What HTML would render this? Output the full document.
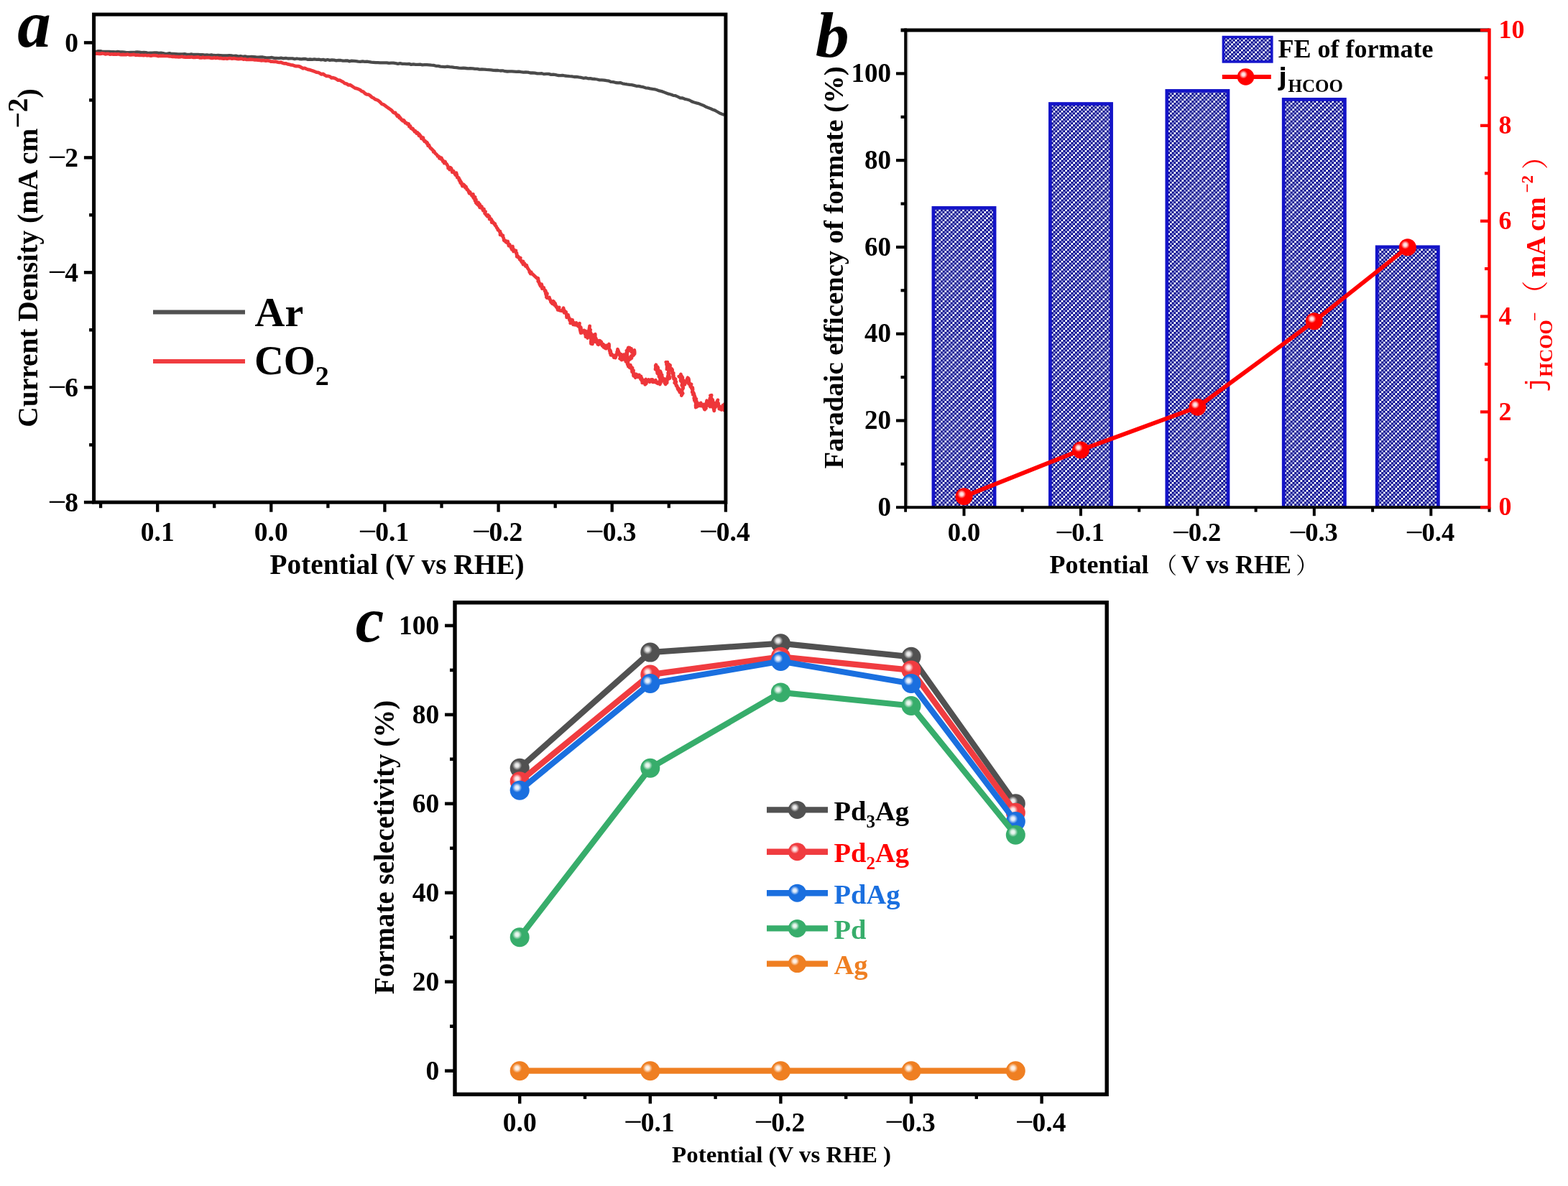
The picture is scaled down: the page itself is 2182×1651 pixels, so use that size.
<!DOCTYPE html>
<html lang="en"><head><meta charset="utf-8"><title>Figure: CO2 electroreduction on PdAg catalysts</title>
<style>
html,body{margin:0;padding:0;background:#fff;}
body{width:2182px;height:1651px;overflow:hidden;}
svg{display:block;font-family:"Liberation Serif", "Noto Serif CJK SC", serif;font-weight:bold;filter:blur(0.6px);}
text{white-space:pre;}
</style></head><body>
<svg width="2182" height="1651" viewBox="0 0 2182 1651">
<rect width="2182" height="1651" fill="#fff"/>
<defs>
<pattern id="hatch" width="11.0" height="11.0" patternUnits="userSpaceOnUse"><rect width="11.0" height="11.0" fill="#9399d8"/><rect x="0.0" y="0.0" width="2.75" height="2.75" fill="#00008b"/><rect x="0.0" y="2.75" width="2.75" height="2.75" fill="#ffffff"/><rect x="0.0" y="5.5" width="2.75" height="2.75" fill="#00008b"/><rect x="2.75" y="0.0" width="2.75" height="2.75" fill="#ffffff"/><rect x="2.75" y="2.75" width="2.75" height="2.75" fill="#00008b"/><rect x="2.75" y="8.25" width="2.75" height="2.75" fill="#00008b"/><rect x="5.5" y="0.0" width="2.75" height="2.75" fill="#00008b"/><rect x="5.5" y="5.5" width="2.75" height="2.75" fill="#00008b"/><rect x="5.5" y="8.25" width="2.75" height="2.75" fill="#ffffff"/><rect x="8.25" y="2.75" width="2.75" height="2.75" fill="#00008b"/><rect x="8.25" y="5.5" width="2.75" height="2.75" fill="#ffffff"/><rect x="8.25" y="8.25" width="2.75" height="2.75" fill="#00008b"/></pattern>
<radialGradient id="shine" cx="0.365" cy="0.36" r="0.62" fx="0.365" fy="0.36"><stop offset="0" stop-color="#ffffff" stop-opacity="0.95"/><stop offset="0.16" stop-color="#ffffff" stop-opacity="0.82"/><stop offset="0.28" stop-color="#ffffff" stop-opacity="0.4"/><stop offset="0.4" stop-color="#ffffff" stop-opacity="0"/><stop offset="1" stop-color="#ffffff" stop-opacity="0"/></radialGradient>
</defs>
<g id="panel-a">
<clipPath id="clipa"><rect x="131" y="21" width="878" height="677"/></clipPath>
<g clip-path="url(#clipa)">
<path d="M131.0,71.9 L134.0,71.9 L137.0,71.1 L140.0,71.2 L143.0,72.0 L146.0,72.0 L149.0,72.0 L152.0,71.8 L155.0,72.1 L158.0,72.2 L161.0,72.3 L164.0,71.9 L167.0,72.3 L170.0,72.3 L173.0,72.7 L176.0,73.1 L179.0,73.1 L182.0,72.8 L185.0,72.8 L188.0,72.7 L191.0,72.5 L194.0,72.6 L197.0,73.1 L200.0,73.0 L203.0,73.2 L206.0,73.8 L209.0,73.6 L212.0,73.7 L215.0,73.5 L218.0,73.4 L221.0,73.8 L224.0,73.7 L227.0,74.2 L230.0,74.8 L233.0,74.6 L236.0,74.2 L239.0,75.0 L242.0,75.0 L245.0,75.1 L248.0,75.4 L251.0,75.3 L254.0,75.5 L257.0,75.1 L260.0,75.9 L263.1,76.0 L266.2,75.3 L269.3,76.0 L272.4,76.0 L275.6,75.9 L278.7,76.1 L281.8,76.1 L284.9,76.7 L288.0,76.4 L291.1,76.8 L294.2,76.4 L297.3,77.0 L300.4,77.2 L303.6,76.8 L306.7,77.1 L309.8,77.5 L312.9,77.4 L316.0,77.3 L319.1,77.2 L322.2,77.4 L325.3,78.0 L328.4,77.6 L331.6,78.5 L334.7,78.0 L337.8,78.8 L340.9,78.4 L344.0,79.2 L347.1,79.1 L350.2,79.0 L353.3,79.2 L356.4,79.5 L359.6,79.6 L362.7,79.4 L365.8,79.5 L368.9,80.0 L372.0,80.5 L375.2,80.4 L378.4,80.0 L381.6,80.8 L384.8,80.9 L388.0,81.2 L391.2,80.6 L394.4,81.3 L397.6,80.8 L400.8,81.5 L404.0,81.3 L407.0,81.3 L410.1,82.1 L413.1,81.5 L416.2,82.0 L419.2,82.4 L422.3,82.0 L425.3,82.0 L428.4,82.8 L431.4,82.5 L434.5,82.9 L437.5,82.3 L440.6,82.8 L443.6,82.7 L446.7,83.3 L449.7,82.9 L452.8,83.9 L455.8,83.0 L458.9,83.9 L461.9,83.3 L465.0,83.6 L468.0,84.3 L471.0,83.8 L474.1,84.0 L477.1,84.6 L480.2,84.5 L483.2,84.3 L486.3,85.4 L489.3,84.7 L492.4,84.8 L495.4,85.2 L498.5,85.6 L501.5,85.9 L504.6,85.4 L507.6,85.8 L510.7,85.7 L513.7,86.2 L516.8,86.7 L519.8,86.8 L522.9,87.1 L525.9,87.2 L529.0,87.4 L532.0,87.4 L535.1,87.3 L538.2,87.3 L541.3,87.9 L544.4,87.7 L547.5,87.7 L550.6,88.2 L553.7,88.8 L556.8,88.2 L559.9,88.8 L563.0,88.8 L566.0,89.1 L569.1,88.9 L572.2,89.9 L575.3,89.4 L578.4,89.9 L581.5,89.9 L584.6,89.6 L587.7,90.3 L590.8,90.1 L593.9,90.2 L597.0,90.3 L600.2,90.7 L603.4,90.9 L606.6,91.8 L609.8,91.9 L613.0,92.7 L616.2,92.9 L619.3,93.2 L622.5,92.7 L625.7,93.2 L628.9,93.3 L632.1,93.9 L635.3,94.2 L638.5,94.7 L641.7,94.8 L644.9,94.6 L648.1,95.0 L651.3,95.4 L654.5,95.1 L657.8,95.3 L661.0,95.9 L664.2,95.9 L667.4,96.7 L670.6,96.5 L673.8,96.6 L677.0,96.9 L680.2,97.1 L683.4,97.3 L686.6,97.8 L689.8,98.0 L693.0,98.0 L696.2,98.5 L699.5,98.3 L702.7,99.2 L705.9,99.5 L709.1,99.4 L712.3,99.3 L715.5,99.6 L718.7,99.9 L721.9,99.6 L725.1,100.2 L728.3,100.6 L731.5,100.4 L734.8,100.6 L738.0,101.5 L741.2,101.3 L744.4,101.7 L747.6,102.4 L750.8,102.3 L754.0,102.2 L757.2,103.2 L760.4,102.9 L763.6,102.9 L766.8,103.9 L770.0,103.6 L773.2,104.1 L776.5,105.0 L779.7,105.1 L782.9,104.8 L786.1,105.5 L789.3,105.8 L792.5,106.2 L795.7,106.3 L798.9,107.0 L802.1,106.8 L805.3,107.4 L808.5,107.9 L811.8,108.8 L815.0,108.3 L818.2,109.3 L821.4,109.1 L824.6,109.9 L827.8,110.0 L831.0,110.5 L834.2,111.3 L837.4,111.4 L840.6,111.6 L843.8,112.2 L847.0,112.6 L850.2,113.9 L853.5,114.2 L856.7,115.0 L859.9,115.3 L863.1,115.1 L866.3,116.3 L869.5,116.9 L872.7,117.4 L875.9,117.8 L879.1,118.2 L882.3,118.9 L885.5,119.8 L888.8,119.9 L892.0,120.7 L895.2,121.2 L898.4,122.3 L901.6,122.7 L904.8,123.4 L908.0,123.9 L911.2,124.3 L914.3,125.2 L917.5,126.4 L920.7,127.1 L923.8,128.2 L927.0,129.4 L930.2,130.7 L933.5,131.5 L936.8,132.8 L940.0,133.2 L943.2,134.6 L946.5,136.3 L949.8,136.5 L953.0,137.8 L956.2,138.5 L959.5,139.5 L962.8,141.4 L966.0,142.5 L969.2,143.4 L972.3,144.1 L975.5,145.5 L978.7,146.7 L981.8,148.4 L985.0,149.7 L988.3,150.9 L991.6,152.5 L994.9,153.6 L998.1,155.5 L1001.4,157.4 L1004.7,158.8 L1008.0,160.0" fill="none" stroke="#4a4a4a" stroke-width="4.3" stroke-linejoin="round" />
<path d="M131.0,74.2 L133.2,74.6 L135.5,74.5 L137.7,74.8 L139.9,74.9 L142.1,74.4 L144.4,74.5 L146.6,75.4 L148.8,74.9 L151.0,74.9 L153.3,75.7 L155.5,75.3 L157.7,75.7 L159.9,75.4 L162.2,75.7 L164.4,75.3 L166.6,75.8 L168.8,76.1 L171.1,75.9 L173.3,76.2 L175.5,76.2 L177.7,75.6 L180.0,76.4 L182.2,76.3 L184.4,76.1 L186.6,75.9 L188.9,76.8 L191.1,76.5 L193.3,76.8 L195.5,77.0 L197.8,76.9 L200.0,77.2 L202.2,76.8 L204.4,77.3 L206.7,77.0 L208.9,77.6 L211.1,77.6 L213.3,77.0 L215.6,77.1 L217.8,77.3 L220.0,78.1 L222.2,77.7 L224.4,77.9 L226.7,77.7 L228.9,78.0 L231.1,78.0 L233.3,78.0 L235.6,78.4 L237.8,78.5 L240.0,78.9 L242.2,78.7 L244.4,79.1 L246.7,79.1 L248.9,79.3 L251.1,79.1 L253.3,78.7 L255.6,79.5 L257.8,79.7 L260.0,79.7 L262.2,79.4 L264.5,79.7 L266.7,79.3 L269.0,80.0 L271.2,79.8 L273.4,79.6 L275.7,79.4 L277.9,80.3 L280.2,80.5 L282.4,79.7 L284.6,80.5 L286.9,80.2 L289.1,80.0 L291.4,80.2 L293.6,80.8 L295.8,81.0 L298.1,80.2 L300.3,80.9 L302.6,80.4 L304.8,81.1 L307.0,80.8 L309.3,81.4 L311.5,81.6 L313.8,81.2 L316.0,81.8 L318.3,81.2 L320.5,81.1 L322.8,81.7 L325.1,81.2 L327.3,81.5 L329.6,81.8 L331.9,82.1 L334.1,81.8 L336.4,81.7 L338.7,82.7 L340.9,82.2 L343.2,83.0 L345.5,83.0 L347.7,82.6 L350.0,82.8 L352.2,83.0 L354.4,83.3 L356.6,83.4 L358.8,83.6 L361.0,83.8 L363.2,84.3 L365.4,84.1 L367.6,84.2 L369.8,84.6 L372.0,84.3 L374.4,84.7 L376.8,85.7 L379.1,85.6 L381.5,85.9 L383.9,85.7 L386.2,86.5 L388.6,87.0 L391.0,86.7 L393.4,87.8 L395.7,88.4 L398.1,88.3 L400.5,89.4 L402.8,89.8 L405.2,90.5 L407.5,90.7 L409.9,91.6 L412.3,92.2 L414.6,92.0 L417.0,92.6 L419.3,93.9 L421.7,95.3 L424.0,94.8 L426.3,95.9 L428.7,96.9 L431.0,97.2 L433.4,98.0 L435.7,98.7 L438.0,99.6 L440.4,100.7 L442.7,100.9 L445.0,101.9 L447.4,103.4 L449.7,102.9 L452.0,104.7 L454.3,105.8 L456.7,105.9 L459.0,106.5 L461.3,108.4 L463.6,108.2 L466.0,108.9 L468.3,110.2 L470.6,111.7 L473.0,111.7 L475.3,113.1 L477.6,114.2 L480.0,116.2 L482.3,116.5 L484.7,118.3 L487.0,118.1 L489.3,119.5 L491.7,121.1 L494.0,122.6 L496.3,123.1 L498.7,124.0 L501.0,125.1 L503.3,127.1 L505.7,127.8 L508.0,130.1 L510.4,131.5 L512.7,131.6 L515.0,133.0 L517.4,135.3 L519.7,136.3 L522.0,138.2 L524.4,139.0 L526.7,140.2 L529.0,142.1 L531.3,144.7 L533.7,145.4 L536.0,147.1 L538.3,148.9 L540.6,150.5 L543.0,152.1 L545.3,153.9 L545.3,153.9 L546.2,155.1 L547.1,156.1 L547.8,156.8 L548.0,156.5 L549.5,157.5 L550.2,157.0 L550.6,158.0 L551.5,159.4 L551.7,159.2 L552.7,161.5 L553.9,160.4 L554.7,161.0 L555.3,161.7 L555.5,164.1 L556.5,163.2 L558.0,165.4 L558.1,166.3 L559.1,166.3 L559.5,167.6 L560.8,168.4 L561.7,167.3 L562.0,167.6 L562.5,168.0 L563.4,170.1 L563.9,171.0 L565.0,170.7 L566.3,171.8 L566.5,172.5 L567.8,172.0 L568.8,172.6 L569.4,175.6 L569.3,176.1 L570.5,176.2 L570.9,175.3 L571.9,178.7 L572.7,178.8 L574.3,180.0 L574.4,178.9 L575.4,180.9 L575.7,181.5 L577.3,182.5 L577.1,183.5 L578.0,182.3 L579.4,184.8 L579.7,185.6 L580.7,184.4 L581.1,184.6 L581.5,185.2 L583.0,188.7 L583.0,186.3 L584.8,188.6 L584.8,188.4 L585.7,191.1 L586.3,190.4 L586.4,192.8 L587.1,192.1 L588.9,191.6 L589.5,195.1 L590.1,195.3 L590.0,194.8 L590.8,196.9 L591.6,196.3 L593.3,198.5 L593.9,197.9 L593.8,199.7 L594.5,198.9 L595.0,199.1 L595.6,203.0 L597.1,202.5 L597.1,202.2 L597.1,202.7 L598.8,205.8 L598.9,206.2 L600.3,206.7 L600.8,207.7 L601.1,208.3 L601.7,208.2 L603.1,209.8 L603.1,211.5 L604.4,210.9 L604.1,211.5 L605.2,212.8 L606.2,214.1 L607.3,214.8 L607.5,215.0 L608.8,216.5 L608.9,217.4 L610.5,217.5 L611.4,219.4 L611.3,218.4 L611.4,220.4 L613.4,219.6 L613.6,221.4 L614.4,219.8 L615.1,222.3 L615.6,222.4 L616.2,224.6 L616.9,225.1 L616.5,223.4 L617.9,226.3 L618.2,227.2 L619.6,225.1 L620.0,226.7 L619.9,227.0 L621.0,227.9 L621.5,228.0 L622.7,230.3 L623.6,232.0 L623.6,234.2 L623.9,232.7 L625.2,233.4 L625.6,236.1 L626.8,233.2 L628.0,234.2 L628.6,236.1 L629.3,239.7 L630.5,238.0 L631.2,239.8 L631.1,238.2 L632.3,240.9 L633.7,243.5 L633.7,241.4 L635.0,240.6 L634.3,243.9 L635.7,242.8 L636.3,247.2 L636.3,245.9 L636.5,246.2 L638.4,247.4 L638.9,250.8 L638.7,248.7 L640.0,250.6 L639.4,250.7 L641.0,252.4 L640.3,253.1 L640.7,254.5 L641.9,253.8 L643.2,257.0 L642.4,256.4 L643.5,259.0 L645.1,256.6 L644.8,257.0 L646.8,258.4 L646.7,260.0 L647.5,261.3 L648.4,259.8 L649.1,261.4 L649.4,262.3 L649.7,263.9 L650.7,263.8 L651.9,265.6 L651.3,264.8 L652.8,268.6 L654.3,267.6 L653.4,269.4 L654.9,269.2 L656.1,270.2 L656.4,272.2 L657.0,270.5 L658.5,270.3 L658.2,274.0 L658.5,274.7 L660.0,273.8 L659.6,276.4 L661.2,274.4 L660.7,277.3 L661.2,277.2 L660.9,279.3 L662.5,277.9 L662.1,282.2 L663.8,282.3 L663.1,283.3 L665.5,285.4 L665.7,281.8 L666.6,283.4 L667.0,287.6 L667.8,284.6 L667.7,289.0 L668.1,288.4 L669.3,287.1 L670.4,287.4 L670.1,289.7 L670.7,289.1 L672.3,293.0 L673.5,291.0 L673.4,292.7 L674.3,294.3 L675.6,294.6 L674.6,297.0 L675.4,297.5 L676.7,299.6 L677.4,299.1 L677.6,299.6 L678.2,301.3 L679.3,299.3 L679.4,301.3 L681.0,301.2 L681.6,304.2 L681.1,305.1 L681.7,303.5 L683.3,304.8 L684.5,306.8 L684.1,309.1 L684.2,309.6 L684.9,307.8 L687.2,311.1 L686.5,309.4 L688.5,312.8 L688.8,311.2 L689.1,313.0 L689.0,313.8 L690.2,314.8 L690.3,314.7 L691.7,317.9 L692.2,317.8 L692.8,319.1 L692.9,320.2 L693.7,320.3 L693.1,319.5 L693.9,320.4 L695.7,323.4 L696.0,322.0 L696.0,327.0 L696.8,325.8 L697.2,325.1 L697.3,326.2 L698.4,328.0 L700.0,327.8 L699.6,329.2 L700.1,330.1 L700.9,331.8 L701.2,334.6 L702.5,335.5 L703.8,335.1 L704.1,337.2 L704.1,336.8 L705.1,337.6 L706.6,336.0 L706.2,336.2 L706.9,337.2 L707.9,342.1 L708.5,339.9 L709.3,340.5 L710.4,343.3 L710.0,341.9 L711.6,345.9 L712.2,344.3 L713.5,343.1 L712.4,347.5 L713.7,344.9 L714.6,350.0 L715.2,347.9 L715.1,347.4 L717.2,350.1 L717.9,348.8 L717.2,349.7 L718.1,350.6 L718.4,353.0 L719.1,352.3 L719.2,357.3 L720.1,356.1 L721.1,357.0 L721.1,356.9 L721.7,358.8 L723.8,359.9 L724.3,359.0 L723.3,361.3 L724.8,362.3 L725.2,363.4 L726.5,365.5 L726.4,364.1 L728.0,363.9 L727.3,365.1 L727.9,368.0 L729.9,366.7 L729.3,366.4 L730.1,367.2 L731.1,370.3 L731.4,368.7 L732.9,369.4 L732.6,371.3 L733.5,371.3 L734.2,373.1 L735.5,375.0 L736.4,376.3 L736.7,376.7 L736.8,378.7 L737.8,380.1 L738.5,379.8 L738.3,381.1 L739.2,378.8 L739.2,379.8 L747.7,387.7 L747.8,387.0 L748.9,387.5 L749.2,389.9 L748.7,391.5 L749.1,392.0 L749.7,391.3 L750.8,395.8 L750.7,393.8 L752.1,398.2 L752.5,396.5 L753.7,395.8 L754.2,397.7 L753.4,397.7 L754.4,401.8 L754.8,401.4 L756.3,401.2 L756.8,400.5 L756.5,401.9 L758.3,403.8 L758.2,405.3 L759.2,404.7 L760.0,407.7 L759.2,408.2 L759.9,410.7 L760.7,408.7 L761.5,408.7 L760.3,413.6 L760.5,412.8 L761.0,414.6 L763.5,414.8 L764.5,414.0 L764.8,416.5 L765.3,416.4 L766.7,420.1 L766.6,419.2 L766.4,420.2 L768.6,422.7 L769.9,419.1 L769.7,422.1 L769.7,421.5 L770.9,420.0 L771.4,424.6 L772.5,422.1 L773.6,426.8 L773.4,425.1 L775.0,428.6 L776.2,429.4 L775.4,427.6 L776.1,431.3 L778.1,427.8 L776.7,429.2 L777.3,431.6 L778.7,431.2 L778.3,431.9 L780.2,432.5 L782.7,433.0 L782.6,432.3 L784.1,428.7 L785.2,433.8 L785.8,434.7 L785.3,433.1 L785.2,435.3 L785.8,432.7 L786.8,434.1 L787.7,434.3 L787.6,435.7 L788.3,437.8 L788.6,441.8 L790.6,438.3 L790.2,440.4 L791.0,440.0 L792.7,446.1 L792.3,443.9 L791.9,442.5 L793.0,444.4 L794.7,444.7 L793.7,450.0 L795.8,445.7 L796.7,445.5 L797.6,451.8 L799.3,450.7 L798.8,449.2 L799.5,452.2 L801.5,452.5 L802.0,449.3 L804.3,454.1 L805.4,453.3 L806.4,453.1 L806.1,452.0 L806.5,450.1 L805.9,452.6 L806.5,456.1 L808.3,455.6 L808.4,459.9 L808.6,457.2 L807.0,457.4 L807.0,458.3 L808.2,463.5 L808.8,462.0 L809.4,463.4 L809.1,462.1 L812.1,462.3 L812.7,459.9 L812.4,461.3 L813.1,462.4 L815.0,461.0 L814.1,465.3 L815.2,461.7 L814.2,462.6 L816.4,467.6 L815.0,468.7 L817.4,468.7 L816.2,469.1 L816.1,466.9 L818.4,469.7 L817.6,470.4 L817.7,469.0 L818.9,464.1 L817.8,463.5 L818.0,464.3 L818.3,462.3 L818.3,464.2 L819.1,460.5 L819.9,462.2 L819.8,461.2 L820.3,457.9 L820.6,453.8 L820.7,453.8 L819.8,458.5 L820.3,457.6 L821.7,459.2 L820.9,460.0 L821.6,462.6 L820.6,462.3 L821.1,461.6 L822.5,464.1 L822.1,466.6 L823.1,465.8 L822.5,467.2 L822.3,469.3 L822.3,469.4 L822.5,472.9 L823.2,473.5 L823.9,470.9 L823.1,476.0 L823.9,472.2 L822.3,475.1 L822.3,474.9 L822.4,478.5 L824.5,478.9 L823.3,476.8 L824.9,472.3 L825.9,476.2 L824.7,475.1 L825.5,471.3 L827.3,472.3 L825.7,468.9 L826.9,467.3 L826.5,466.2 L828.3,465.3 L828.3,468.8 L827.5,469.0 L829.4,471.1 L828.5,474.8 L830.7,475.7 L829.6,472.4 L829.9,476.4 L830.9,473.4 L831.7,479.1 L833.2,476.1 L832.6,479.8 L834.6,478.2 L834.5,474.1 L836.9,476.0 L836.5,478.9 L838.3,479.0 L837.5,480.2 L837.9,481.2 L839.3,479.0 L840.0,483.5 L839.8,479.6 L840.9,481.2 L840.3,481.7 L840.6,482.8 L841.7,484.4 L843.3,485.2 L843.3,483.7 L843.6,481.9 L844.0,481.0 L845.8,483.4 L845.1,482.1 L847.5,479.0 L847.7,482.0 L847.3,485.4 L847.4,484.4 L848.5,488.2 L848.1,488.3 L849.4,488.1 L849.0,487.4 L848.6,487.0 L849.0,491.7 L849.9,489.2 L849.9,494.3 L852.1,494.2 L851.1,492.7 L852.2,494.2 L853.0,494.3 L854.3,497.6 L857.1,495.3 L856.4,498.1 L857.6,494.6 L857.3,493.7 L858.8,493.4 L858.6,492.3 L858.6,489.8 L859.2,489.5 L859.5,486.2 L860.5,488.5 L861.6,491.3 L862.4,493.1 L862.7,495.5 L862.3,493.2 L864.1,493.1 L863.9,497.1 L862.6,499.3 L865.0,499.1 L865.0,501.2 L864.4,498.7 L866.0,499.8 L867.5,499.0 L867.8,498.6 L868.8,496.6 L868.0,493.6 L868.1,496.6 L868.3,500.4 L869.7,500.1 L870.2,501.4 L870.2,498.3 L871.3,503.7 L870.9,503.4 L871.4,499.5 L871.8,499.6 L870.3,498.7 L872.1,497.2 L872.3,500.8 L871.8,496.2 L872.0,497.0 L872.8,495.5 L872.7,491.3 L871.6,491.3 L873.2,490.5 L873.0,487.8 L871.9,488.2 L873.5,489.7 L873.7,486.3 L873.5,486.3 L874.3,483.9 L876.3,484.1 L877.5,488.2 L876.1,485.0 L878.8,488.8 L878.6,485.3 L878.8,490.1 L879.5,488.6 L880.1,489.0 L882.8,487.4 L883.2,490.4 L883.1,492.6 L881.3,494.8 L881.6,490.6 L880.2,494.4 L881.0,494.3 L879.4,495.1 L878.9,498.6 L877.2,498.6 L878.3,495.4 L877.6,499.5 L876.6,497.5 L874.4,498.7 L875.7,500.9 L874.0,501.0 L873.6,499.8 L872.9,505.6 L873.2,507.3 L872.9,504.3 L874.0,504.7 L874.3,510.2 L876.1,510.2 L876.0,511.7 L877.4,510.3 L877.4,508.2 L878.0,511.4 L878.6,513.5 L878.1,510.7 L880.1,512.2 L879.5,514.4 L879.5,517.7 L881.6,515.7 L881.3,516.9 L881.5,518.4 L881.1,518.0 L881.6,523.4 L882.8,520.2 L884.2,525.8 L883.6,521.6 L884.0,521.0 L885.4,520.8 L886.2,521.5 L888.0,525.0 L889.5,521.9 L889.2,523.5 L889.6,523.3 L889.3,523.8 L892.0,523.8 L891.4,527.7 L892.8,526.1 L891.9,527.2 L892.7,529.3 L894.6,532.6 L894.9,528.5 L893.8,533.0 L896.9,531.9 L897.1,529.4 L897.6,535.3 L899.3,534.0 L900.3,529.5 L898.8,528.1 L900.5,530.4 L902.1,529.8 L902.0,529.2 L902.6,528.4 L902.6,530.3 L904.1,531.6 L906.1,528.4 L905.9,528.6 L908.2,531.8 L908.0,528.4 L910.1,531.9 L910.8,530.2 L912.4,529.3 L912.8,532.5 L915.4,533.8 L916.2,533.1 L915.7,532.0 L918.4,535.0 L917.9,531.1 L918.5,533.9 L918.5,530.3 L919.3,533.2 L918.4,526.8 L918.9,528.0 L919.9,525.6 L920.4,527.7 L919.2,523.6 L919.9,523.3 L919.1,521.9 L917.3,524.1 L917.0,524.4 L917.1,518.8 L916.0,519.3 L916.6,521.6 L915.0,517.3 L914.7,519.9 L914.1,513.4 L913.5,514.5 L915.0,516.5 L914.2,516.3 L914.3,511.4 L912.0,514.1 L913.0,507.7 L912.3,508.9 L912.2,509.5 L912.3,508.5 L913.1,511.5 L915.2,511.0 L915.8,512.4 L914.9,517.0 L916.6,515.6 L915.3,516.8 L916.6,520.4 L916.7,518.0 L919.0,516.9 L918.3,522.5 L919.7,518.8 L918.5,519.8 L921.2,521.9 L921.2,526.6 L920.7,523.7 L922.7,526.7 L921.5,528.2 L922.2,526.4 L921.9,530.2 L924.6,530.3 L925.2,527.6 L923.9,531.2 L926.2,534.9 L925.3,531.6 L925.9,533.9 L927.6,531.1 L927.7,533.5 L928.2,532.8 L928.2,529.2 L928.0,528.5 L929.5,525.9 L928.6,529.0 L929.2,523.9 L929.1,525.9 L930.3,527.5 L932.1,526.6 L930.4,520.2 L929.8,521.7 L931.1,520.4 L929.7,519.2 L930.5,519.7 L930.6,519.7 L930.2,514.4 L930.4,514.4 L929.5,513.8 L929.7,511.8 L928.4,511.0 L927.9,513.9 L928.8,509.5 L928.1,512.5 L928.2,506.9 L928.7,508.4 L928.9,504.1 L927.5,507.4 L928.2,507.0 L926.8,504.1 L927.6,504.4 L930.3,507.6 L930.7,507.3 L931.2,508.6 L930.3,511.5 L932.6,508.3 L932.3,512.3 L932.0,511.7 L932.4,511.6 L933.3,514.8 L934.8,513.4 L933.9,515.0 L935.8,515.1 L935.2,516.2 L936.7,519.2 L935.3,517.5 L936.4,521.1 L937.3,519.3 L936.5,523.9 L937.4,522.4 L937.5,527.4 L937.8,526.0 L938.2,526.1 L939.8,530.5 L938.9,526.7 L940.1,527.7 L938.7,532.9 L940.0,533.3 L940.3,534.7 L940.9,531.4 L940.2,534.7 L942.1,537.8 L941.2,537.1 L942.2,537.4 L942.1,537.0 L943.4,541.9 L942.8,540.2 L944.9,544.1 L943.8,540.0 L946.0,546.1 L945.3,541.6 L947.0,544.4 L947.6,546.7 L948.0,544.8 L948.6,546.0 L948.3,550.6 L950.0,547.5 L948.6,547.7 L949.4,546.6 L948.6,544.7 L950.2,547.6 L948.6,544.5 L950.5,540.3 L950.8,539.7 L950.3,541.3 L950.5,538.8 L950.1,539.4 L950.3,538.8 L950.0,536.5 L948.7,536.6 L949.5,533.3 L949.9,535.6 L948.8,531.0 L948.6,529.6 L947.4,530.5 L947.0,529.6 L947.8,526.2 L947.8,525.5 L947.7,528.7 L946.8,523.4 L946.5,524.3 L947.3,521.9 L946.8,526.1 L946.2,524.0 L944.6,524.0 L945.8,524.8 L947.4,521.0 L947.7,526.5 L946.5,523.9 L948.7,523.7 L949.6,525.3 L949.9,525.4 L949.7,531.0 L949.6,528.0 L950.8,529.2 L950.3,529.3 L951.1,534.8 L952.9,535.4 L952.2,535.7 L952.6,533.2 L954.3,531.2 L955.4,531.4 L955.1,532.4 L954.5,532.1 L956.2,527.6 L957.1,525.8 L958.0,526.7 L956.8,528.9 L957.2,526.4 L958.2,526.7 L958.7,528.9 L958.5,534.3 L958.9,533.3 L958.7,530.2 L958.6,532.0 L960.5,534.6 L960.7,538.3 L960.3,535.2 L962.1,534.8 L961.1,537.7 L961.8,538.6 L962.6,540.9 L963.8,539.6 L964.1,542.3 L963.2,546.1 L963.7,542.3 L963.7,546.3 L965.8,548.2 L964.9,546.1 L964.3,549.4 L965.9,548.6 L966.3,550.2 L967.3,552.9 L965.9,555.0 L965.7,553.8 L966.8,553.0 L966.3,557.3 L966.4,556.9 L968.9,555.5 L967.4,559.3 L968.4,560.5 L969.4,558.8 L968.4,560.6 L968.0,565.2 L969.9,565.2 L968.3,567.1 L970.3,565.9 L971.1,565.1 L970.7,562.4 L971.6,561.4 L972.7,565.0 L974.4,564.9 L975.3,560.8 L975.7,562.5 L976.9,563.8 L976.4,565.2 L978.8,563.4 L979.3,562.9 L978.5,564.9 L980.4,569.9 L981.1,566.9 L982.2,567.6 L980.9,570.1 L982.1,567.8 L982.5,568.5 L982.3,566.7 L983.1,565.8 L982.8,564.0 L983.4,560.5 L982.8,561.4 L982.8,562.1 L983.6,557.7 L984.1,563.9 L985.4,560.1 L985.2,560.3 L987.5,564.7 L988.1,566.2 L986.8,564.3 L987.7,564.5 L988.9,563.9 L987.3,562.7 L989.5,562.1 L987.7,556.6 L987.8,554.5 L989.8,558.1 L989.4,557.1 L989.6,552.8 L988.5,550.6 L990.2,550.2 L989.4,552.5 L988.9,552.5 L989.8,556.2 L990.3,554.9 L991.9,557.0 L991.9,558.6 L990.2,558.4 L991.4,561.6 L991.5,562.2 L992.2,560.2 L993.2,560.5 L993.3,561.9 L991.6,563.1 L993.7,568.8 L992.1,566.9 L993.6,569.7 L993.1,568.9 L993.7,571.9 L993.9,571.6 L994.3,566.1 L995.7,566.8 L994.7,566.6 L995.0,566.5 L996.9,565.5 L997.1,561.9 L996.9,561.1 L998.5,558.2 L998.9,556.8 L997.7,559.2 L999.8,561.5 L999.0,564.8 L999.2,563.1 L1000.3,565.8 L1001.3,566.1 L1000.8,565.1 L1000.8,569.2 L1002.5,569.5 L1001.8,568.6 L1003.7,570.4 L1002.9,569.0 L1005.4,566.9 L1004.5,566.5 L1006.5,569.0 L1005.9,564.2 L1006.9,564.5 L1008.2,562.7 L1007.9,564.0 L1009.5,568.4 L1007.5,570.9 L1007.6,568.5 L1009.8,572.0 L1009.3,571.0 L1008.1,573.3" fill="none" stroke="#ee363a" stroke-width="4.7" stroke-linejoin="round" />
</g>
<rect x="130.6" y="20.1" width="879.3" height="679.1" fill="none" stroke="#000" stroke-width="5"/>
<line x1="140.1" y1="699.2" x2="140.1" y2="707.2" stroke="#000" stroke-width="4.3"/>
<line x1="219.2" y1="699.2" x2="219.2" y2="712.7" stroke="#000" stroke-width="4.3"/>
<text x="219.2" y="753" font-size="37.5" text-anchor="middle">0.1</text>
<line x1="298.2" y1="699.2" x2="298.2" y2="707.2" stroke="#000" stroke-width="4.3"/>
<line x1="377.3" y1="699.2" x2="377.3" y2="712.7" stroke="#000" stroke-width="4.3"/>
<text x="377.3" y="753" font-size="37.5" text-anchor="middle">0.0</text>
<line x1="456.4" y1="699.2" x2="456.4" y2="707.2" stroke="#000" stroke-width="4.3"/>
<line x1="535.4" y1="699.2" x2="535.4" y2="712.7" stroke="#000" stroke-width="4.3"/>
<text x="498.8" y="753" font-size="37.5"><tspan font-size="46.0" font-weight="400" dy="2.3">−</tspan><tspan dx="-2.4" dy="-2.3">0.1</tspan></text>
<line x1="614.5" y1="699.2" x2="614.5" y2="707.2" stroke="#000" stroke-width="4.3"/>
<line x1="693.6" y1="699.2" x2="693.6" y2="712.7" stroke="#000" stroke-width="4.3"/>
<text x="656.9" y="753" font-size="37.5"><tspan font-size="46.0" font-weight="400" dy="2.3">−</tspan><tspan dx="-2.4" dy="-2.3">0.2</tspan></text>
<line x1="772.7" y1="699.2" x2="772.7" y2="707.2" stroke="#000" stroke-width="4.3"/>
<line x1="851.7" y1="699.2" x2="851.7" y2="712.7" stroke="#000" stroke-width="4.3"/>
<text x="815.1" y="753" font-size="37.5"><tspan font-size="46.0" font-weight="400" dy="2.3">−</tspan><tspan dx="-2.4" dy="-2.3">0.3</tspan></text>
<line x1="930.8" y1="699.2" x2="930.8" y2="707.2" stroke="#000" stroke-width="4.3"/>
<line x1="1009.9" y1="699.2" x2="1009.9" y2="712.7" stroke="#000" stroke-width="4.3"/>
<text x="973.2" y="753" font-size="37.5"><tspan font-size="46.0" font-weight="400" dy="2.3">−</tspan><tspan dx="-2.4" dy="-2.3">0.4</tspan></text>
<line x1="130.6" y1="59.4" x2="116.9" y2="59.4" stroke="#000" stroke-width="4.5"/>
<text x="109" y="71.8" font-size="37.5" text-anchor="end">0</text>
<line x1="130.6" y1="139.4" x2="124.1" y2="139.4" stroke="#000" stroke-width="4.5"/>
<line x1="130.6" y1="219.4" x2="116.9" y2="219.4" stroke="#000" stroke-width="4.5"/>
<text x="66.7" y="231.8" font-size="37.5"><tspan font-size="46.0" font-weight="400" dy="2.3">−</tspan><tspan dx="-2.4" dy="-2.3">2</tspan></text>
<line x1="130.6" y1="299.3" x2="124.1" y2="299.3" stroke="#000" stroke-width="4.5"/>
<line x1="130.6" y1="379.3" x2="116.9" y2="379.3" stroke="#000" stroke-width="4.5"/>
<text x="66.7" y="391.7" font-size="37.5"><tspan font-size="46.0" font-weight="400" dy="2.3">−</tspan><tspan dx="-2.4" dy="-2.3">4</tspan></text>
<line x1="130.6" y1="459.3" x2="124.1" y2="459.3" stroke="#000" stroke-width="4.5"/>
<line x1="130.6" y1="539.3" x2="116.9" y2="539.3" stroke="#000" stroke-width="4.5"/>
<text x="66.7" y="551.7" font-size="37.5"><tspan font-size="46.0" font-weight="400" dy="2.3">−</tspan><tspan dx="-2.4" dy="-2.3">6</tspan></text>
<line x1="130.6" y1="619.3" x2="124.1" y2="619.3" stroke="#000" stroke-width="4.5"/>
<line x1="130.6" y1="699.2" x2="116.9" y2="699.2" stroke="#000" stroke-width="4.5"/>
<text x="66.7" y="711.6" font-size="37.5"><tspan font-size="46.0" font-weight="400" dy="2.3">−</tspan><tspan dx="-2.4" dy="-2.3">8</tspan></text>
<text x="552.5" y="798.7" font-size="39.3" text-anchor="middle">Potential (V vs RHE)</text>
<text x="52" y="359" font-size="39.4" text-anchor="middle" transform="rotate(-90 52 359)">Current Density (mA cm<tspan dy="-14">−2</tspan><tspan dy="14">)</tspan></text>
<line x1="213.0" y1="434.4" x2="341.0" y2="434.4" stroke="#515151" stroke-width="6"/>
<line x1="213.0" y1="503.0" x2="341.0" y2="503.0" stroke="#f03c40" stroke-width="6"/>
<text x="354.5" y="453.6" font-size="58">Ar</text>
<text x="354" y="521" font-size="56.5">CO<tspan font-size="38" dy="15">2</tspan></text>
<text x="47.4" y="65.3" font-size="93" text-anchor="middle" font-style="italic">a</text>
</g>
<g id="panel-b">
<clipPath id="clipb"><rect x="1262" y="44" width="809" height="662"/></clipPath><g clip-path="url(#clipb)">
<rect x="1298.9" y="289.4" width="85.2" height="422.4" fill="url(#hatch)" stroke="#1414c8" stroke-width="4.7"/>
<rect x="1461.4" y="144.5" width="85.2" height="567.3" fill="url(#hatch)" stroke="#1414c8" stroke-width="4.7"/>
<rect x="1623.8" y="126.4" width="85.2" height="585.4" fill="url(#hatch)" stroke="#1414c8" stroke-width="4.7"/>
<rect x="1786.2" y="138.4" width="85.2" height="573.4" fill="url(#hatch)" stroke="#1414c8" stroke-width="4.7"/>
<rect x="1916.2" y="343.8" width="85.2" height="368.0" fill="url(#hatch)" stroke="#1414c8" stroke-width="4.7"/>
</g>
<line x1="1262.7" y1="42.0" x2="1262.7" y2="706.2" stroke="#9a9a9a" stroke-width="1.6"/>
<line x1="1260.1" y1="39.5" x2="1260.1" y2="712.7" stroke="#000" stroke-width="3.8"/>
<line x1="1253.5" y1="42.0" x2="2072.5" y2="42.0" stroke="#000" stroke-width="5"/>
<line x1="1247.0" y1="706.2" x2="2072.5" y2="706.2" stroke="#000" stroke-width="4.1"/>
<text x="1240" y="717.9" font-size="37" text-anchor="end">0</text>
<line x1="1260.5" y1="645.9" x2="1253.5" y2="645.9" stroke="#000" stroke-width="4.2"/>
<line x1="1260.5" y1="585.5" x2="1247.0" y2="585.5" stroke="#000" stroke-width="4.2"/>
<text x="1240" y="597.1" font-size="37" text-anchor="end">20</text>
<line x1="1260.5" y1="525.1" x2="1253.5" y2="525.1" stroke="#000" stroke-width="4.2"/>
<line x1="1260.5" y1="464.7" x2="1247.0" y2="464.7" stroke="#000" stroke-width="4.2"/>
<text x="1240" y="476.3" font-size="37" text-anchor="end">40</text>
<line x1="1260.5" y1="404.3" x2="1253.5" y2="404.3" stroke="#000" stroke-width="4.2"/>
<line x1="1260.5" y1="344.0" x2="1247.0" y2="344.0" stroke="#000" stroke-width="4.2"/>
<text x="1240" y="355.6" font-size="37" text-anchor="end">60</text>
<line x1="1260.5" y1="283.6" x2="1253.5" y2="283.6" stroke="#000" stroke-width="4.2"/>
<line x1="1260.5" y1="223.2" x2="1247.0" y2="223.2" stroke="#000" stroke-width="4.2"/>
<text x="1240" y="234.8" font-size="37" text-anchor="end">80</text>
<line x1="1260.5" y1="162.8" x2="1253.5" y2="162.8" stroke="#000" stroke-width="4.2"/>
<line x1="1260.5" y1="102.4" x2="1247.0" y2="102.4" stroke="#000" stroke-width="4.2"/>
<text x="1240" y="114.0" font-size="37" text-anchor="end">100</text>
<line x1="1341.5" y1="706.2" x2="1341.5" y2="718.2" stroke="#000" stroke-width="4"/>
<text x="1341.5" y="753.3" font-size="36.5" text-anchor="middle">0.0</text>
<line x1="1422.7" y1="706.2" x2="1422.7" y2="712.7" stroke="#000" stroke-width="4"/>
<line x1="1504.0" y1="706.2" x2="1504.0" y2="718.2" stroke="#000" stroke-width="4"/>
<text x="1468.3" y="753.3" font-size="36.5"><tspan font-size="44.8" font-weight="400" dy="2.3">−</tspan><tspan dx="-2.3" dy="-2.3">0.1</tspan></text>
<line x1="1585.2" y1="706.2" x2="1585.2" y2="712.7" stroke="#000" stroke-width="4"/>
<line x1="1666.4" y1="706.2" x2="1666.4" y2="718.2" stroke="#000" stroke-width="4"/>
<text x="1630.7" y="753.3" font-size="36.5"><tspan font-size="44.8" font-weight="400" dy="2.3">−</tspan><tspan dx="-2.3" dy="-2.3">0.2</tspan></text>
<line x1="1747.6" y1="706.2" x2="1747.6" y2="712.7" stroke="#000" stroke-width="4"/>
<line x1="1828.8" y1="706.2" x2="1828.8" y2="718.2" stroke="#000" stroke-width="4"/>
<text x="1793.2" y="753.3" font-size="36.5"><tspan font-size="44.8" font-weight="400" dy="2.3">−</tspan><tspan dx="-2.3" dy="-2.3">0.3</tspan></text>
<line x1="1910.1" y1="706.2" x2="1910.1" y2="712.7" stroke="#000" stroke-width="4"/>
<line x1="1991.3" y1="706.2" x2="1991.3" y2="718.2" stroke="#000" stroke-width="4"/>
<text x="1955.6" y="753.3" font-size="36.5"><tspan font-size="44.8" font-weight="400" dy="2.3">−</tspan><tspan dx="-2.3" dy="-2.3">0.4</tspan></text>
<line x1="2072.5" y1="706.2" x2="2072.5" y2="712.7" stroke="#000" stroke-width="4"/>
<line x1="2072.5" y1="39.5" x2="2072.5" y2="708.4" stroke="#ff0000" stroke-width="4.4"/>
<line x1="2072.5" y1="706.2" x2="2060.0" y2="706.2" stroke="#ff0000" stroke-width="4.2"/>
<text x="2085.6" y="717.4" font-size="36" fill="#ff0000">0</text>
<line x1="2072.5" y1="639.8" x2="2066.0" y2="639.8" stroke="#ff0000" stroke-width="4.2"/>
<line x1="2072.5" y1="573.4" x2="2060.0" y2="573.4" stroke="#ff0000" stroke-width="4.2"/>
<text x="2085.6" y="584.6" font-size="36" fill="#ff0000">2</text>
<line x1="2072.5" y1="506.9" x2="2066.0" y2="506.9" stroke="#ff0000" stroke-width="4.2"/>
<line x1="2072.5" y1="440.5" x2="2060.0" y2="440.5" stroke="#ff0000" stroke-width="4.2"/>
<text x="2085.6" y="451.7" font-size="36" fill="#ff0000">4</text>
<line x1="2072.5" y1="374.1" x2="2066.0" y2="374.1" stroke="#ff0000" stroke-width="4.2"/>
<line x1="2072.5" y1="307.7" x2="2060.0" y2="307.7" stroke="#ff0000" stroke-width="4.2"/>
<text x="2085.6" y="318.9" font-size="36" fill="#ff0000">6</text>
<line x1="2072.5" y1="241.3" x2="2066.0" y2="241.3" stroke="#ff0000" stroke-width="4.2"/>
<line x1="2072.5" y1="174.8" x2="2060.0" y2="174.8" stroke="#ff0000" stroke-width="4.2"/>
<text x="2085.6" y="186.0" font-size="36" fill="#ff0000">8</text>
<line x1="2072.5" y1="108.4" x2="2066.0" y2="108.4" stroke="#ff0000" stroke-width="4.2"/>
<line x1="2072.5" y1="42.0" x2="2060.0" y2="42.0" stroke="#ff0000" stroke-width="4.2"/>
<text x="2085.6" y="53.2" font-size="36" fill="#ff0000">10</text>
<path d="M1341.5,691.3 L1504.0,626.5 L1666.4,566.7 L1828.8,447.2 L1958.8,344.2" fill="none" stroke="#ff0000" stroke-width="5.9" stroke-linejoin="round" />
<circle cx="1341.5" cy="691.3" r="12" fill="#ff0000"/><circle cx="1341.5" cy="691.3" r="12" fill="url(#shine)"/>
<circle cx="1504.0" cy="626.5" r="12" fill="#ff0000"/><circle cx="1504.0" cy="626.5" r="12" fill="url(#shine)"/>
<circle cx="1666.4" cy="566.7" r="12" fill="#ff0000"/><circle cx="1666.4" cy="566.7" r="12" fill="url(#shine)"/>
<circle cx="1828.8" cy="447.2" r="12" fill="#ff0000"/><circle cx="1828.8" cy="447.2" r="12" fill="url(#shine)"/>
<circle cx="1958.8" cy="344.2" r="12" fill="#ff0000"/><circle cx="1958.8" cy="344.2" r="12" fill="url(#shine)"/>
<rect x="1702.4" y="51.6" width="67.4" height="34.3" fill="url(#hatch)" stroke="#1616cc" stroke-width="3.6"/>
<text x="1778.6" y="79.5" font-size="36">FE of formate</text>
<line x1="1700.8" y1="107.0" x2="1768.8" y2="107.0" stroke="#ff0000" stroke-width="5.9"/>
<circle cx="1733.5" cy="107.0" r="11.8" fill="#ff0000"/><circle cx="1733.5" cy="107.0" r="11.8" fill="url(#shine)"/>
<text x="1779.6" y="119.2" font-size="33" font-family='"DejaVu Sans", "Liberation Sans", sans-serif'>j<tspan x="1792.5" y="127.6" font-size="25" font-family='"Liberation Serif", "Noto Serif CJK SC", serif'>HCOO</tspan></text>
<text x="1460.6" y="797.7" font-size="36">Potential <tspan x="1607" y="798" font-size="31" font-weight="400" font-family='"Noto Serif CJK SC", "Noto Sans CJK SC", serif'>（</tspan><tspan x="1643.6" y="797.7">V vs RHE</tspan><tspan x="1803.2" y="798" font-size="31" font-weight="400" font-family='"Noto Serif CJK SC", "Noto Sans CJK SC", serif'>）</tspan></text>
<text x="1173" y="372.5" font-size="38.65" text-anchor="middle" transform="rotate(-90 1173 372.5)">Faradaic efficency of formate (%)</text>
<text transform="translate(2149.5 545.5) rotate(-90)" font-size="37" fill="#ff0000"><tspan x="0" y="-1" font-size="36" font-weight="400" font-family='"Liberation Mono", monospace'>j</tspan><tspan x="20.7" y="10.5" font-size="26">HCOO</tspan><tspan x="98.5" y="-6.5" font-size="22">−</tspan><tspan x="117.7" y="0" font-weight="400" font-family='"Noto Serif CJK SC", "Noto Sans CJK SC", serif'>（</tspan><tspan x="159" y="0">mA cm</tspan><tspan x="277" y="-17" font-size="23">−2</tspan><tspan x="309.5" y="0" font-weight="400" font-family='"Noto Serif CJK SC", "Noto Sans CJK SC", serif'>）</tspan></text>
<text x="1158.2" y="79.4" font-size="89" text-anchor="middle" font-style="italic" textLength="47" lengthAdjust="spacingAndGlyphs">b</text>
</g>
<g id="panel-c">
<path d="M723.2,1069.2 L904.8,908.1 L1086.4,895.7 L1268.0,914.3 L1413.3,1118.8" fill="none" stroke="#515151" stroke-width="8.2" stroke-linejoin="round" />
<circle cx="723.2" cy="1069.2" r="13.5" fill="#515151"/><circle cx="723.2" cy="1069.2" r="13.5" fill="url(#shine)"/>
<circle cx="904.8" cy="908.1" r="13.5" fill="#515151"/><circle cx="904.8" cy="908.1" r="13.5" fill="url(#shine)"/>
<circle cx="1086.4" cy="895.7" r="13.5" fill="#515151"/><circle cx="1086.4" cy="895.7" r="13.5" fill="url(#shine)"/>
<circle cx="1268.0" cy="914.3" r="13.5" fill="#515151"/><circle cx="1268.0" cy="914.3" r="13.5" fill="url(#shine)"/>
<circle cx="1413.3" cy="1118.8" r="13.5" fill="#515151"/><circle cx="1413.3" cy="1118.8" r="13.5" fill="url(#shine)"/>
<path d="M723.2,1087.8 L904.8,939.1 L1086.4,914.3 L1268.0,932.9 L1413.3,1131.2" fill="none" stroke="#f03c40" stroke-width="8.2" stroke-linejoin="round" />
<circle cx="723.2" cy="1087.8" r="13.5" fill="#f03c40"/><circle cx="723.2" cy="1087.8" r="13.5" fill="url(#shine)"/>
<circle cx="904.8" cy="939.1" r="13.5" fill="#f03c40"/><circle cx="904.8" cy="939.1" r="13.5" fill="url(#shine)"/>
<circle cx="1086.4" cy="914.3" r="13.5" fill="#f03c40"/><circle cx="1086.4" cy="914.3" r="13.5" fill="url(#shine)"/>
<circle cx="1268.0" cy="932.9" r="13.5" fill="#f03c40"/><circle cx="1268.0" cy="932.9" r="13.5" fill="url(#shine)"/>
<circle cx="1413.3" cy="1131.2" r="13.5" fill="#f03c40"/><circle cx="1413.3" cy="1131.2" r="13.5" fill="url(#shine)"/>
<path d="M723.2,1100.2 L904.8,951.5 L1086.4,920.5 L1268.0,951.5 L1413.3,1143.6" fill="none" stroke="#1a6fdf" stroke-width="8.2" stroke-linejoin="round" />
<circle cx="723.2" cy="1100.2" r="13.5" fill="#1a6fdf"/><circle cx="723.2" cy="1100.2" r="13.5" fill="url(#shine)"/>
<circle cx="904.8" cy="951.5" r="13.5" fill="#1a6fdf"/><circle cx="904.8" cy="951.5" r="13.5" fill="url(#shine)"/>
<circle cx="1086.4" cy="920.5" r="13.5" fill="#1a6fdf"/><circle cx="1086.4" cy="920.5" r="13.5" fill="url(#shine)"/>
<circle cx="1268.0" cy="951.5" r="13.5" fill="#1a6fdf"/><circle cx="1268.0" cy="951.5" r="13.5" fill="url(#shine)"/>
<circle cx="1413.3" cy="1143.6" r="13.5" fill="#1a6fdf"/><circle cx="1413.3" cy="1143.6" r="13.5" fill="url(#shine)"/>
<path d="M723.2,1304.8 L904.8,1069.2 L1086.4,963.9 L1268.0,982.5 L1413.3,1162.2" fill="none" stroke="#37ad6b" stroke-width="8.2" stroke-linejoin="round" />
<circle cx="723.2" cy="1304.8" r="13.5" fill="#37ad6b"/><circle cx="723.2" cy="1304.8" r="13.5" fill="url(#shine)"/>
<circle cx="904.8" cy="1069.2" r="13.5" fill="#37ad6b"/><circle cx="904.8" cy="1069.2" r="13.5" fill="url(#shine)"/>
<circle cx="1086.4" cy="963.9" r="13.5" fill="#37ad6b"/><circle cx="1086.4" cy="963.9" r="13.5" fill="url(#shine)"/>
<circle cx="1268.0" cy="982.5" r="13.5" fill="#37ad6b"/><circle cx="1268.0" cy="982.5" r="13.5" fill="url(#shine)"/>
<circle cx="1413.3" cy="1162.2" r="13.5" fill="#37ad6b"/><circle cx="1413.3" cy="1162.2" r="13.5" fill="url(#shine)"/>
<path d="M723.2,1490.7 L904.8,1490.7 L1086.4,1490.7 L1268.0,1490.7 L1413.3,1490.7" fill="none" stroke="#ef7f22" stroke-width="8.2" stroke-linejoin="round" />
<circle cx="723.2" cy="1490.7" r="13.5" fill="#ef7f22"/><circle cx="723.2" cy="1490.7" r="13.5" fill="url(#shine)"/>
<circle cx="904.8" cy="1490.7" r="13.5" fill="#ef7f22"/><circle cx="904.8" cy="1490.7" r="13.5" fill="url(#shine)"/>
<circle cx="1086.4" cy="1490.7" r="13.5" fill="#ef7f22"/><circle cx="1086.4" cy="1490.7" r="13.5" fill="url(#shine)"/>
<circle cx="1268.0" cy="1490.7" r="13.5" fill="#ef7f22"/><circle cx="1268.0" cy="1490.7" r="13.5" fill="url(#shine)"/>
<circle cx="1413.3" cy="1490.7" r="13.5" fill="#ef7f22"/><circle cx="1413.3" cy="1490.7" r="13.5" fill="url(#shine)"/>
<rect x="633" y="838.8" width="907.2" height="684.6" fill="none" stroke="#000" stroke-width="5.4"/>
<line x1="723.2" y1="1523.4" x2="723.2" y2="1536.4" stroke="#000" stroke-width="4.4"/>
<text x="723.2" y="1574.5" font-size="37.5" text-anchor="middle">0.0</text>
<line x1="814.0" y1="1523.4" x2="814.0" y2="1529.9" stroke="#000" stroke-width="4.4"/>
<line x1="904.8" y1="1523.4" x2="904.8" y2="1536.4" stroke="#000" stroke-width="4.4"/>
<text x="868.2" y="1574.5" font-size="37.5"><tspan font-size="46.0" font-weight="400" dy="2.3">−</tspan><tspan dx="-2.4" dy="-2.3">0.1</tspan></text>
<line x1="995.6" y1="1523.4" x2="995.6" y2="1529.9" stroke="#000" stroke-width="4.4"/>
<line x1="1086.4" y1="1523.4" x2="1086.4" y2="1536.4" stroke="#000" stroke-width="4.4"/>
<text x="1049.8" y="1574.5" font-size="37.5"><tspan font-size="46.0" font-weight="400" dy="2.3">−</tspan><tspan dx="-2.4" dy="-2.3">0.2</tspan></text>
<line x1="1177.2" y1="1523.4" x2="1177.2" y2="1529.9" stroke="#000" stroke-width="4.4"/>
<line x1="1268.0" y1="1523.4" x2="1268.0" y2="1536.4" stroke="#000" stroke-width="4.4"/>
<text x="1231.4" y="1574.5" font-size="37.5"><tspan font-size="46.0" font-weight="400" dy="2.3">−</tspan><tspan dx="-2.4" dy="-2.3">0.3</tspan></text>
<line x1="1358.8" y1="1523.4" x2="1358.8" y2="1529.9" stroke="#000" stroke-width="4.4"/>
<line x1="1449.6" y1="1523.4" x2="1449.6" y2="1536.4" stroke="#000" stroke-width="4.4"/>
<text x="1413.0" y="1574.5" font-size="37.5"><tspan font-size="46.0" font-weight="400" dy="2.3">−</tspan><tspan dx="-2.4" dy="-2.3">0.4</tspan></text>
<line x1="633.0" y1="1490.7" x2="619.0" y2="1490.7" stroke="#000" stroke-width="4.6"/>
<text x="611.3" y="1503.0" font-size="37.5" text-anchor="end">0</text>
<line x1="633.0" y1="1428.7" x2="626.0" y2="1428.7" stroke="#000" stroke-width="4.6"/>
<line x1="633.0" y1="1366.7" x2="619.0" y2="1366.7" stroke="#000" stroke-width="4.6"/>
<text x="611.3" y="1379.0" font-size="37.5" text-anchor="end">20</text>
<line x1="633.0" y1="1304.8" x2="626.0" y2="1304.8" stroke="#000" stroke-width="4.6"/>
<line x1="633.0" y1="1242.8" x2="619.0" y2="1242.8" stroke="#000" stroke-width="4.6"/>
<text x="611.3" y="1255.1" font-size="37.5" text-anchor="end">40</text>
<line x1="633.0" y1="1180.8" x2="626.0" y2="1180.8" stroke="#000" stroke-width="4.6"/>
<line x1="633.0" y1="1118.8" x2="619.0" y2="1118.8" stroke="#000" stroke-width="4.6"/>
<text x="611.3" y="1131.1" font-size="37.5" text-anchor="end">60</text>
<line x1="633.0" y1="1056.8" x2="626.0" y2="1056.8" stroke="#000" stroke-width="4.6"/>
<line x1="633.0" y1="994.9" x2="619.0" y2="994.9" stroke="#000" stroke-width="4.6"/>
<text x="611.3" y="1007.2" font-size="37.5" text-anchor="end">80</text>
<line x1="633.0" y1="932.9" x2="626.0" y2="932.9" stroke="#000" stroke-width="4.6"/>
<line x1="633.0" y1="870.9" x2="619.0" y2="870.9" stroke="#000" stroke-width="4.6"/>
<text x="611.3" y="883.2" font-size="37.5" text-anchor="end">100</text>
<text x="1087.6" y="1618" font-size="31" text-anchor="middle" textLength="305" lengthAdjust="spacingAndGlyphs">Potential (V vs RHE )</text>
<text x="548" y="1179.5" font-size="39" text-anchor="middle" transform="rotate(-90 548 1179.5)">Formate selecetivity (%)</text>
<line x1="1067.0" y1="1127.4" x2="1152.0" y2="1127.4" stroke="#515151" stroke-width="8.4"/>
<circle cx="1109.4" cy="1127.4" r="12.5" fill="#515151"/><circle cx="1109.4" cy="1127.4" r="12.5" fill="url(#shine)"/>
<text x="1160.5" y="1141.8" font-size="38.5">Pd<tspan font-size="25" dy="10">3</tspan><tspan dy="-10">Ag</tspan></text>
<line x1="1067.0" y1="1185.7" x2="1152.0" y2="1185.7" stroke="#f03c40" stroke-width="8.4"/>
<circle cx="1109.4" cy="1185.7" r="12.5" fill="#f03c40"/><circle cx="1109.4" cy="1185.7" r="12.5" fill="url(#shine)"/>
<text x="1160.5" y="1200.1" font-size="38.5" fill="#ff0000">Pd<tspan font-size="25" dy="10">2</tspan><tspan dy="-10">Ag</tspan></text>
<line x1="1067.0" y1="1243.2" x2="1152.0" y2="1243.2" stroke="#1a6fdf" stroke-width="8.4"/>
<circle cx="1109.4" cy="1243.2" r="12.5" fill="#1a6fdf"/><circle cx="1109.4" cy="1243.2" r="12.5" fill="url(#shine)"/>
<text x="1160.5" y="1257.6" font-size="38.5" fill="#1a6fdf">PdAg</text>
<line x1="1067.0" y1="1292.4" x2="1152.0" y2="1292.4" stroke="#37ad6b" stroke-width="8.4"/>
<circle cx="1109.4" cy="1292.4" r="12.5" fill="#37ad6b"/><circle cx="1109.4" cy="1292.4" r="12.5" fill="url(#shine)"/>
<text x="1160.5" y="1306.8" font-size="38.5" fill="#37ad6b">Pd</text>
<line x1="1067.0" y1="1341.6" x2="1152.0" y2="1341.6" stroke="#ef7f22" stroke-width="8.4"/>
<circle cx="1109.4" cy="1341.6" r="12.5" fill="#ef7f22"/><circle cx="1109.4" cy="1341.6" r="12.5" fill="url(#shine)"/>
<text x="1160.5" y="1356.0" font-size="38.5" fill="#ef7f22">Ag</text>
<text x="514.4" y="892.9" font-size="89" text-anchor="middle" font-style="italic">c</text>
</g>
</svg>
</body></html>
